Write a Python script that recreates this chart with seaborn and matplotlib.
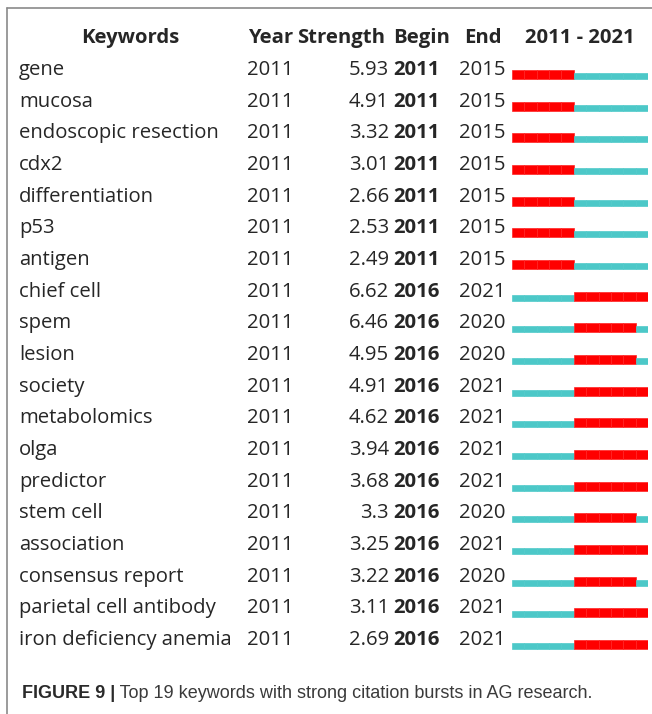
import matplotlib
matplotlib.use("Agg")
import matplotlib.pyplot as plt
import seaborn as sns
from matplotlib.transforms import blended_transform_factory
from matplotlib.lines import Line2D

# ---- data ----
keywords = ["gene", "mucosa", "endoscopic resection", "cdx2", "differentiation", "p53",
            "antigen", "chief cell", "spem", "lesion", "society", "metabolomics", "olga",
            "predictor", "stem cell", "association", "consensus report",
            "parietal cell antibody", "iron deficiency anemia"]
years = [2011] * 19
strengths = ["5.93", "4.91", "3.32", "3.01", "2.66", "2.53", "2.49", "6.62", "6.46", "4.95",
             "4.91", "4.62", "3.94", "3.68", "3.3", "3.25", "3.22", "3.11", "2.69"]
begins = [2011] * 7 + [2016] * 12
ends = [2015] * 7 + [2021, 2020, 2020, 2021, 2021, 2021, 2021, 2020, 2021, 2020, 2021, 2021]
first_year, last_year = 2011, 2021
headers = ["Keywords", "Year", "Strength", "Begin", "End", "2011 - 2021"]
caption_bold = "FIGURE 9 |"
caption_text = " Top 19 keywords with strong citation bursts in AG research."

sns.set_theme(style="white")
plt.rcParams["font.family"] = ["Open Sans", "DejaVu Sans"]

W, H = 652, 714
fig = plt.figure(figsize=(W / 100, H / 100), dpi=100)
fig.patch.set_facecolor("white")

def fx(px):
    return px / W

def fy(py):
    return 1 - py / H

row0, dy = 68.0, 31.67
top = row0 - dy / 2
bot = row0 + dy * 18.5
ax = fig.add_axes([fx(512), fy(bot), (648 - 512) / W, (bot - top) / H])
ax.set_xlim(0, last_year - first_year + 1)
ax.set_ylim(18.5, -0.5)
ax.axis("off")

RED, CYAN = "#FF0000", "#4CC8C8"
base_off = 11.0 / dy
h_red, h_cyan = 9 / dy, 6 / dy
for i in range(len(keywords)):
    for yr in range(first_year, last_year + 1):
        burst = begins[i] <= yr <= ends[i]
        h = h_red if burst else h_cyan
        ax.barh(i + base_off - h, 1, left=yr - first_year, height=h, align="edge",
                color=RED if burst else CYAN,
                edgecolor="#ff2424" if burst else "#50caca", linewidth=0.5)

tr = blended_transform_factory(fig.transFigure, ax.transData)
fs = 14.6
toff = 2.0 / dy
# headers
hy = -1.0 + toff
ax.text(fx(130), hy, headers[0], transform=tr, ha="center", va="center", fontsize=fs, fontweight="bold")
ax.text(fx(248), hy, headers[1], transform=tr, ha="left", va="center", fontsize=fs, fontweight="bold")
ax.text(fx(297), hy, headers[2], transform=tr, ha="left", va="center", fontsize=fs, fontweight="bold")
ax.text(fx(393), hy, headers[3], transform=tr, ha="left", va="center", fontsize=fs, fontweight="bold")
ax.text(fx(464), hy, headers[4], transform=tr, ha="left", va="center", fontsize=fs, fontweight="bold")
ax.text(fx(580), hy, headers[5], transform=tr, ha="center", va="center", fontsize=fs, fontweight="bold")

for i in range(len(keywords)):
    y = i + toff
    ax.text(fx(19), y, keywords[i], transform=tr, ha="left", va="center", fontsize=fs)
    ax.text(fx(247), y, str(years[i]), transform=tr, ha="left", va="center", fontsize=fs)
    ax.text(fx(389), y, strengths[i], transform=tr, ha="right", va="center", fontsize=fs)
    ax.text(fx(393), y, str(begins[i]), transform=tr, ha="left", va="center", fontsize=fs, fontweight="bold")
    ax.text(fx(459), y, str(ends[i]), transform=tr, ha="left", va="center", fontsize=fs)

# frame
fig.add_artist(Line2D([fx(7), fx(7)], [fy(8), 0], transform=fig.transFigure, color="#8a8a8a", lw=1.2))
fig.add_artist(Line2D([fx(7), 1], [fy(8), fy(8)], transform=fig.transFigure, color="#8a8a8a", lw=1.2))

# caption
cfs = 13.0
t1 = fig.text(fx(22), fy(693), caption_bold, ha="left", va="center", fontsize=cfs,
              fontweight="bold", family=["Liberation Sans", "DejaVu Sans"], color="#2a2a2a")
fig.canvas.draw()
bb = t1.get_window_extent()
fig.text(bb.x1 / W, fy(693), caption_text, ha="left", va="center", fontsize=cfs,
         family=["Liberation Sans", "DejaVu Sans"], color="#3a3a3a")

fig.savefig("out.png", dpi=100)
